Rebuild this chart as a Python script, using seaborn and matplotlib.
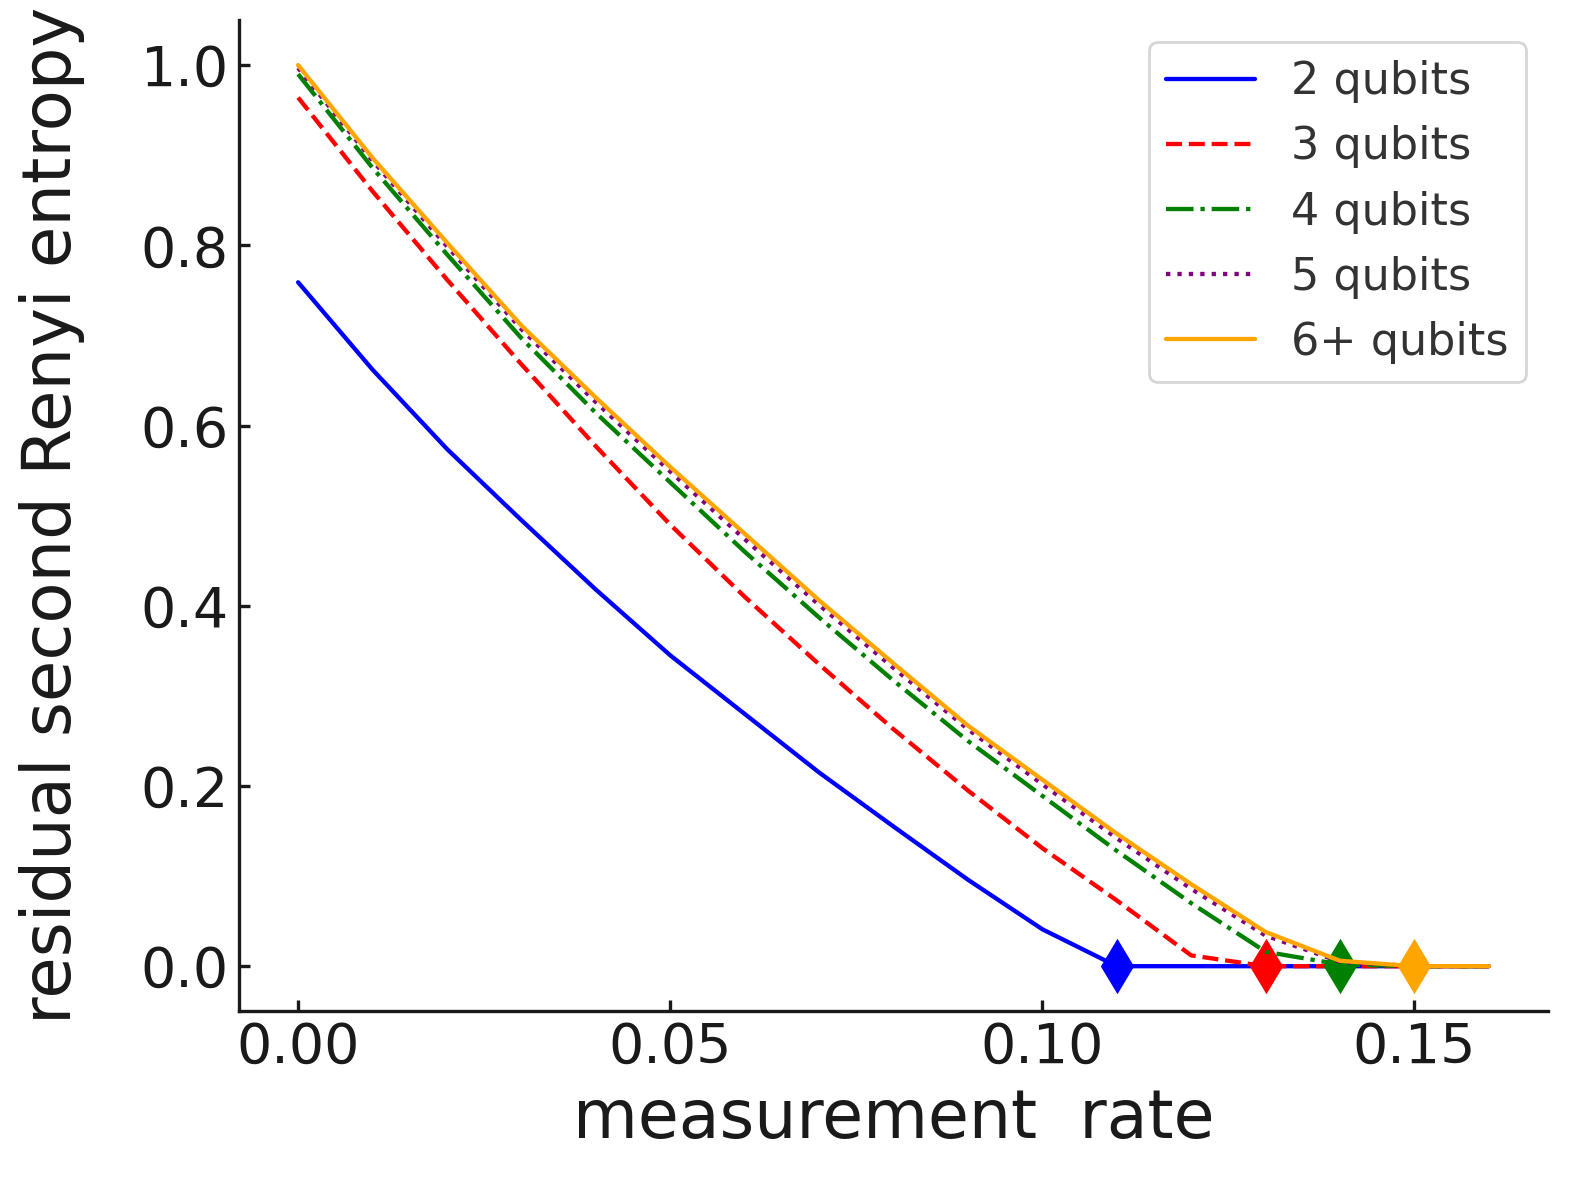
import matplotlib
matplotlib.use("Agg")
import matplotlib.pyplot as plt
import seaborn as sns

rate = [0.00, 0.01, 0.02, 0.03, 0.04, 0.05, 0.06, 0.07, 0.08,
        0.09, 0.10, 0.11, 0.12, 0.13, 0.14, 0.15, 0.16]

s_2q = [0.759, 0.662, 0.574, 0.495, 0.418, 0.345, 0.280, 0.215, 0.155,
        0.096, 0.041, 0.0, 0.0, 0.0, 0.0, 0.0, 0.0]
s_3q = [0.964, 0.860, 0.762, 0.668, 0.577, 0.490, 0.410, 0.335, 0.263,
        0.195, 0.131, 0.073, 0.012, 0.0, 0.0, 0.0, 0.0]
s_4q = [0.990, 0.886, 0.790, 0.697, 0.614, 0.537, 0.460, 0.387, 0.317,
        0.250, 0.189, 0.128, 0.070, 0.016, 0.002, 0.0, 0.0]
s_5q = [0.997, 0.894, 0.799, 0.707, 0.626, 0.549, 0.474, 0.401, 0.331,
        0.263, 0.202, 0.142, 0.086, 0.034, 0.005, 0.0, 0.0]
s_6q = [1.000, 0.897, 0.803, 0.711, 0.631, 0.554, 0.480, 0.406, 0.336,
        0.267, 0.207, 0.147, 0.091, 0.038, 0.006, 0.0, 0.0]

labels = ["2 qubits", "3 qubits", "4 qubits", "5 qubits", "6+ qubits"]
colors = ["blue", "red", "green", "purple", "orange"]
styles = ["-", "--", "-.", ":", "-"]
# critical rate where each curve hits zero (None = no marker)
critical = [0.11, 0.13, 0.14, None, 0.15]

sns.set_theme(style="ticks")
plt.rcParams['font.family'] = ['DejaVu Sans']

fig, ax = plt.subplots(figsize=(7.9, 5.9), dpi=200)

for ys, lab, col, ls, xc in zip([s_2q, s_3q, s_4q, s_5q, s_6q], labels, colors, styles, critical):
    sns.lineplot(x=rate, y=ys, color=col, linestyle=ls, linewidth=1.55, label=lab, ax=ax)
    if xc is not None:
        ax.plot([xc], [0.0], marker='d', markersize=12.5, color=col, linestyle='none')

sns.despine(ax=ax)
ax.set_xticks([0.00, 0.05, 0.10, 0.15])
ax.set_yticks([0.0, 0.2, 0.4, 0.6, 0.8, 1.0])
ax.tick_params(direction='in', length=4, width=1.2, labelsize=20, colors='#1a1a1a')
for sp in ax.spines.values():
    sp.set_linewidth(1.2)
    sp.set_color('#1a1a1a')
ax.set_xlabel("measurement  rate", fontsize=24, color='#1a1a1a')
ax.set_ylabel("residual second Renyi entropy", fontsize=24.2, color='#1a1a1a', labelpad=20)
ax.legend(loc='upper right', fontsize=16, labelcolor='#333333')

fig.subplots_adjust(left=0.151, right=0.980, bottom=0.143, top=0.983)
fig.savefig("out.png", dpi=200)
